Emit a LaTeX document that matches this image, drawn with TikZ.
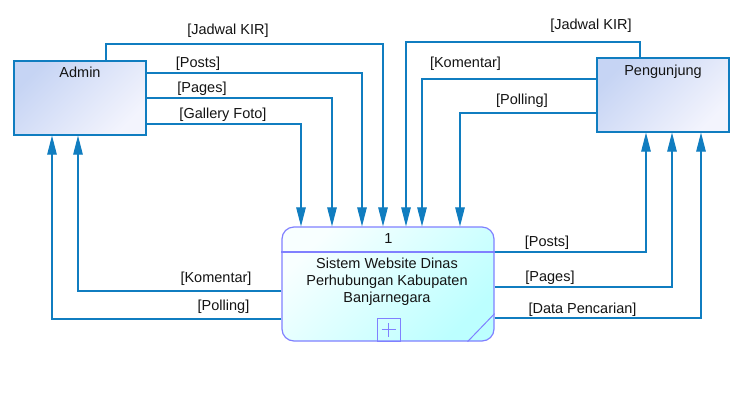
\documentclass[tikz,border=0pt]{standalone}
\usepackage{fontspec}
\setmainfont{Liberation Sans}
\usetikzlibrary{arrows.meta}
\definecolor{flowc}{RGB}{16,125,192}
\definecolor{entborder}{RGB}{16,125,192}
\definecolor{entTL}{RGB}{198,212,244}
\definecolor{entBR}{RGB}{243,244,253}
\definecolor{procborder}{RGB}{128,128,255}
\definecolor{procTL}{RGB}{248,255,255}
\definecolor{procBR}{RGB}{188,255,255}
\definecolor{txt}{RGB}{20,20,20}
\begin{document}
\begin{tikzpicture}[x=1pt,y=-1pt,
  font=\fontsize{14.5}{17}\selectfont,
  entity/.style={draw=entborder,line width=1.2pt,minimum width=132pt,minimum height=74pt,inner sep=0pt,
    top color=entTL,bottom color=entBR,shading angle=45},
  procbox/.style={draw=procborder,line width=1.2pt,rounded corners=12pt,minimum width=212pt,minimum height=114pt,inner sep=0pt,
    top color=procTL,bottom color=procBR,shading angle=45},
  flow/.style={draw=flowc,line width=1.1pt,-{Triangle[length=19pt,width=9.5pt]}},
  lbl/.style={text=txt,inner sep=0pt,anchor=center},
  btxt/.style={text=txt,inner sep=0pt,anchor=base}]
\fill[white] (0,0) rectangle (756,400);
\useasboundingbox (0,0) rectangle (756,400);

% helper coordinates
\coordinate (x52) at (52,0);   \coordinate (x78) at (78,0);
\coordinate (x106) at (106,0); \coordinate (x301) at (301,0);
\coordinate (x332) at (332,0); \coordinate (x362) at (362,0);
\coordinate (x383) at (383,0); \coordinate (x406) at (406,0);
\coordinate (x422) at (422,0); \coordinate (x460) at (460,0);
\coordinate (x640) at (640,0); \coordinate (x646) at (646,0);
\coordinate (x672) at (672,0); \coordinate (x701) at (701,0);
\coordinate (y42) at (0,42);   \coordinate (y44) at (0,44);
\coordinate (y73) at (0,73);   \coordinate (y79) at (0,79);
\coordinate (y98) at (0,98);   \coordinate (y113) at (0,113);
\coordinate (y124) at (0,124); \coordinate (y252) at (0,252);
\coordinate (y287) at (0,287); \coordinate (y291) at (0,291);
\coordinate (y318) at (0,318); \coordinate (y319) at (0,319);

% boxes
\node[entity] (admin) at (80,98) {};
\node[btxt] (admintxt) at (80,77.5) {Admin};
\node[entity] (peng) at (663,95) {};
\node[btxt] (pengtxt) at (663,75) {Pengunjung};
\node[procbox] (proc) at (388,284) {};
\draw[procborder,line width=1.1pt] (proc.west |- y252) -- (proc.east |- y252);
\node[btxt] (pnum) at (388.5,243.7) {1};
\node[lbl,align=center] (ptxt) at (387,281.5) {Sistem Website Dinas\\Perhubungan Kabupaten\\Banjarnegara};
\node[draw=procborder,line width=1pt,minimum size=23pt,inner sep=0pt] (plus) at (388.5,329.5) {};
\draw[procborder,line width=0.8pt] ([xshift=-7pt]plus.center) -- ([xshift=7pt]plus.center);
\draw[procborder,line width=0.8pt] ([yshift=-7pt]plus.center) -- ([yshift=7pt]plus.center);
\draw[procborder,line width=1pt] ([xshift=-27pt]proc.south east) -- ([yshift=28pt]proc.south east);

% flows from Admin
\draw[flow] (admin.north -| x106) |- (y44 -| x383) -- (proc.north -| x383);
\draw[flow] (admin.east |- y73) -| (proc.north -| x362);
\draw[flow] (admin.east |- y98) -| (proc.north -| x332);
\draw[flow] (admin.east |- y124) -| (proc.north -| x301);
% flows from Pengunjung
\draw[flow] (peng.north -| x640) |- (y42 -| x406) -- (proc.north -| x406);
\draw[flow] (peng.west |- y79) -| (proc.north -| x422);
\draw[flow] (peng.west |- y113) -| (proc.north -| x460);
% flows to Pengunjung
\draw[flow] (proc.east |- y252) -| (peng.south -| x646);
\draw[flow] (proc.east |- y287) -| (peng.south -| x672);
\draw[flow] (proc.east |- y318) -| (peng.south -| x701);
% flows to Admin
\draw[flow] (proc.west |- y291) -| (admin.south -| x78);
\draw[flow] (proc.west |- y319) -| (admin.south -| x52);

% labels
\node[lbl] (l1) at (228,30.8) {[Jadwal KIR]};
\node[lbl] (l2) at (198,63.3) {[Posts]};
\node[lbl] (l3) at (202,88.7) {[Pages]};
\node[lbl] (l4) at (223,114.7) {[Gallery Foto]};
\node[lbl] (l5) at (591,26) {[Jadwal KIR]};
\node[lbl] (l6) at (465.5,64) {[Komentar]};
\node[lbl] (l7) at (522,101) {[Polling]};
\node[lbl] (l8) at (216,278.7) {[Komentar]};
\node[lbl] (l9) at (223.5,306.3) {[Polling]};
\node[lbl] (l10) at (547,242.3) {[Posts]};
\node[lbl] (l11) at (550,277.5) {[Pages]};
\node[lbl] (l12) at (582.5,309.5) {[Data Pencarian]};
\end{tikzpicture}
\end{document}
